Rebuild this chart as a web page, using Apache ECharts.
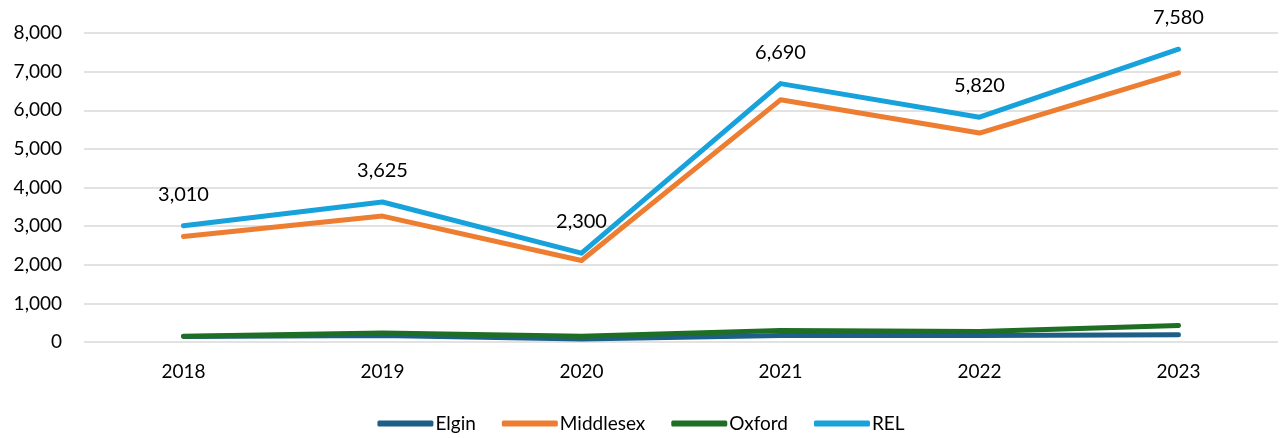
<!DOCTYPE html>
<html>
<head>
<meta charset="utf-8">
<script src="https://cdn.jsdelivr.net/npm/echarts@6/dist/echarts.min.js"></script>
<style>
html, body { margin: 0; padding: 0; background: #fff; }
#main { width: 1282px; height: 438px; }
</style>
</head>
<body>
<div id="main"></div>
<script>
// data
const years = ['2018', '2019', '2020', '2021', '2022', '2023'];
const elgin = [140, 170, 80, 170, 170, 190];
const middlesex = [2730, 3260, 2110, 6270, 5410, 6970];
const oxford = [150, 230, 150, 300, 270, 430];
const rel = [3010, 3625, 2300, 6690, 5820, 7580];

const font = 'Lato, "Open Sans", sans-serif';
const chart = echarts.init(document.getElementById('main'));

function line(name, data, color, withLabel) {
	return {
		name: name,
		type: 'line',
		data: data,
		symbol: 'circle',
		symbolSize: 1,
		showSymbol: true,
		lineStyle: { width: 5, color: color, cap: 'round', join: 'round' },
		itemStyle: { color: color },
		label: withLabel ? {
			show: true,
			position: 'top',
			distance: 21,
			fontSize: 20,
			color: '#000',
			fontFamily: font,
			formatter: p => p.value.toLocaleString('en-US')
		} : { show: false },
		labelLayout: { hideOverlap: false }
	};
}

chart.setOption({
	animation: false,
	grid: { left: 84, right: 4, top: 33, bottom: 96 },
	legend: {
		bottom: 0,
		left: 'center',
		icon: 'roundRect',
		itemWidth: 56,
		itemHeight: 6,
		itemGap: 26,
		textStyle: { fontSize: 19, color: '#000', fontFamily: font, padding: [0, 0, 0, -3] }
	},
	xAxis: {
		type: 'category',
		data: years,
		boundaryGap: true,
		axisLine: { show: false },
		axisTick: { show: false },
		axisLabel: { fontSize: 19, color: '#000', margin: 20, fontFamily: font }
	},
	yAxis: {
		type: 'value',
		min: 0,
		max: 8000,
		interval: 1000,
		axisLabel: {
			fontSize: 19,
			color: '#000',
			margin: 22,
			fontFamily: font,
			formatter: v => v.toLocaleString('en-US')
		},
		splitLine: { lineStyle: { color: '#d9d9d9', width: 1.5 } }
	},
	series: [
		line('Elgin', elgin, '#1d5f86', false),
		line('Middlesex', middlesex, '#ed7d31', false),
		line('Oxford', oxford, '#1e6e24', false),
		line('REL', rel, '#17a2db', true)
	]
});
</script>
</body>
</html>
